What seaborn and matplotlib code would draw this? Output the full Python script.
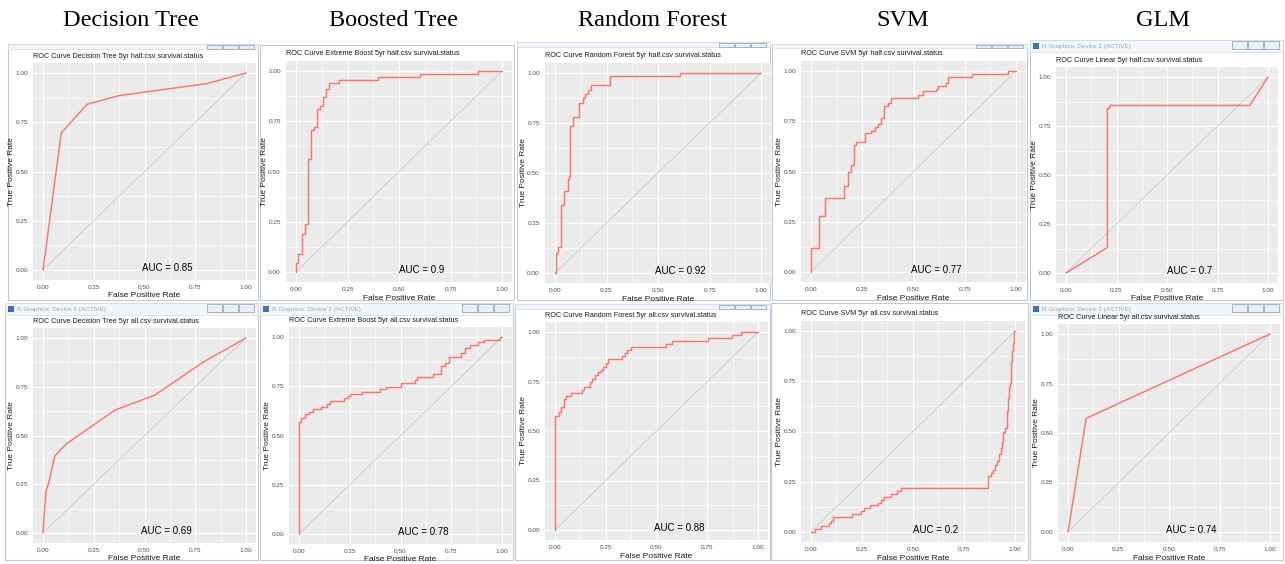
import matplotlib
matplotlib.use("Agg")
import matplotlib.pyplot as plt
from matplotlib.patches import Rectangle
import seaborn as sns

# ---------------------------------------------------------------- data ----
MODELS = ["Decision Tree", "Boosted Tree", "Random Forest", "SVM", "GLM"]

PLOT_TITLES = [
    "ROC Curve Decision Tree 5yr half.csv survival.status",
    "ROC Curve Extreme Boost 5yr half.csv survival.status",
    "ROC Curve Random Forest 5yr half.csv survival.status",
    "ROC Curve SVM 5yr half.csv survival.status",
    "ROC Curve Linear 5yr half.csv survival.status",
    "ROC Curve Decision Tree 5yr all.csv survival.status",
    "ROC Curve Extreme Boost 5yr all.csv survival.status",
    "ROC Curve Random Forest 5yr all.csv survival.status",
    "ROC Curve SVM 5yr all.csv survival.status",
    "ROC Curve Linear 5yr all.csv survival.status",
]

AUC_VALUES = [0.85, 0.9, 0.92, 0.77, 0.7, 0.69, 0.78, 0.88, 0.2, 0.74]

TICKS = [0.0, 0.25, 0.5, 0.75, 1.0]
TICK_LABELS = ["0.00", "0.25", "0.50", "0.75", "1.00"]
MINOR_TICKS = [0.125, 0.375, 0.625, 0.875]
CHANCE = [0.0, 1.0]

# half.csv curves
dt_half_fpr = [0.0, 0.09, 0.217, 0.373, 0.806, 1.0]
dt_half_tpr = [0.0, 0.696, 0.841, 0.885, 0.946, 1.0]

xgb_half_fpr = [0.0, 0.0, 0.01, 0.03, 0.045, 0.057, 0.073, 0.089, 0.10, 0.118,
                0.131, 0.146, 0.162, 0.207, 0.397, 0.603, 0.883, 1.0]
xgb_half_tpr = [0.0, 0.045, 0.09, 0.19, 0.24, 0.56, 0.705, 0.72, 0.81, 0.825,
                0.87, 0.91, 0.94, 0.955, 0.97, 0.987, 1.0, 1.0]

rf_half_fpr = [0.0, 0.003, 0.016, 0.03, 0.045, 0.062, 0.068, 0.073, 0.089, 0.118,
               0.135, 0.146, 0.162, 0.175, 0.267, 0.605, 1.0]
rf_half_tpr = [0.0, 0.10, 0.13, 0.34, 0.41, 0.47, 0.485, 0.735, 0.78, 0.85,
               0.875, 0.895, 0.915, 0.94, 0.985, 1.0, 1.0]

svm_half_fpr = [0.0, 0.0, 0.04, 0.07, 0.16, 0.18, 0.195, 0.21, 0.22, 0.265,
                0.295, 0.31, 0.325, 0.34, 0.355, 0.375, 0.39, 0.52, 0.545, 0.61,
                0.62, 0.66, 0.67, 0.785, 0.96, 1.0]
svm_half_tpr = [0.0, 0.12, 0.28, 0.37, 0.43, 0.50, 0.53, 0.63, 0.645, 0.69,
                0.70, 0.72, 0.735, 0.765, 0.825, 0.84, 0.865, 0.88, 0.90, 0.91,
                0.925, 0.94, 0.97, 0.985, 1.0, 1.0]

glm_half_fpr = [0.0, 0.205, 0.205, 0.215, 0.22, 0.91, 1.0]
glm_half_tpr = [0.0, 0.13, 0.84, 0.84, 0.855, 0.855, 1.0]

# all.csv curves
dt_all_fpr = [0.0, 0.008, 0.016, 0.03, 0.058, 0.115, 0.354, 0.551, 0.79, 1.0]
dt_all_tpr = [0.0, 0.128, 0.22, 0.264, 0.395, 0.457, 0.63, 0.707, 0.877, 1.0]

xgb_all_fpr = [0.0, 0.0, 0.01, 0.03, 0.05, 0.07, 0.11, 0.14, 0.155, 0.22,
               0.24, 0.25, 0.31, 0.40, 0.43, 0.50, 0.57, 0.58, 0.66, 0.698,
               0.718, 0.737, 0.80, 0.82, 0.84, 0.88, 0.91, 0.99, 1.0]
xgb_all_tpr = [0.0, 0.57, 0.59, 0.61, 0.62, 0.635, 0.645, 0.66, 0.675, 0.69,
               0.70, 0.71, 0.72, 0.735, 0.745, 0.765, 0.78, 0.795, 0.81, 0.853,
               0.87, 0.90, 0.917, 0.944, 0.958, 0.973, 0.987, 1.0, 1.0]

rf_all_fpr = [0.0, 0.0, 0.02, 0.03, 0.045, 0.055, 0.08, 0.135, 0.145, 0.17,
              0.18, 0.195, 0.21, 0.225, 0.235, 0.25, 0.26, 0.33, 0.345, 0.355,
              0.375, 0.545, 0.575, 0.755, 0.87, 0.915, 1.0]
rf_all_tpr = [0.0, 0.575, 0.595, 0.62, 0.66, 0.675, 0.69, 0.705, 0.72, 0.745,
              0.765, 0.785, 0.80, 0.81, 0.825, 0.845, 0.865, 0.88, 0.895, 0.91,
              0.925, 0.94, 0.955, 0.97, 0.985, 1.0, 1.0]

svm_all_fpr = [0.0, 0.02, 0.05, 0.09, 0.10, 0.11, 0.20, 0.245, 0.26, 0.29,
               0.33, 0.345, 0.36, 0.39, 0.42, 0.44, 0.87, 0.88, 0.89, 0.90,
               0.91, 0.92, 0.93, 0.935, 0.94, 0.95, 0.96, 0.965, 0.97, 0.975,
               0.98, 0.985, 0.99, 0.995, 1.0]
svm_all_tpr = [0.0, 0.015, 0.03, 0.045, 0.055, 0.075, 0.09, 0.105, 0.12, 0.135,
               0.145, 0.16, 0.175, 0.19, 0.205, 0.22, 0.28, 0.295, 0.31, 0.335,
               0.355, 0.39, 0.42, 0.45, 0.50, 0.515, 0.60, 0.665, 0.72, 0.74,
               0.85, 0.90, 0.94, 1.0, 1.0]

glm_all_fpr = [0.0, 0.09, 1.0]
glm_all_tpr = [0.0, 0.574, 1.0]

CURVES = [
    (dt_half_fpr, dt_half_tpr, "default"),
    (xgb_half_fpr, xgb_half_tpr, "steps-post"),
    (rf_half_fpr, rf_half_tpr, "steps-post"),
    (svm_half_fpr, svm_half_tpr, "steps-post"),
    (glm_half_fpr, glm_half_tpr, "default"),
    (dt_all_fpr, dt_all_tpr, "default"),
    (xgb_all_fpr, xgb_all_tpr, "steps-post"),
    (rf_all_fpr, rf_all_tpr, "steps-post"),
    (svm_all_fpr, svm_all_tpr, "steps-post"),
    (glm_all_fpr, glm_all_tpr, "default"),
]

# -------------------------------------------------------------- layout ----
W, H = 1285, 564

# pixel positions (top-left origin) of data 0 and 1 on each panel: x0, x1, y0, y1
PANEL_PX = [
    (43, 246, 270, 73), (296, 502, 272, 71), (555, 761, 273, 73),
    (811, 1016, 272, 71), (1066, 1268, 273, 77),
    (43, 246, 533, 338), (299, 502, 534, 337), (555, 758, 530, 332),
    (811, 1015, 532, 331), (1068, 1270, 532, 334),
]

# window frames: x0, y0, x1, y1, title-bar height, caption shown, buttons shown
WINDOWS = [
    (8, 44, 258, 300, 5, False, True),
    (260, 45, 514, 300, 0, False, False),
    (517, 42, 770, 300, 5, False, True),
    (772, 44, 1027, 300, 4, False, True),
    (1030, 40, 1283, 300, 12, True, True),
    (5, 303, 258, 560, 12, True, True),
    (260, 303, 513, 560, 12, True, True),
    (515, 304, 770, 560, 5, False, True),
    (771, 303, 1028, 560, 0, False, False),
    (1030, 303, 1283, 560, 12, True, True),
]

HEADER_X = [131, 393, 652, 903, 1163]

RED = "#F8766D"
PANEL_BG = "#EBEBEB"

sns.set_style("white")
plt.rcParams["font.family"] = ["Liberation Sans", "DejaVu Sans"]

fig = plt.figure(figsize=(W / 100, H / 100), dpi=100)
fig.patch.set_facecolor("white")


def fig_rect(x0, y0, x1, y1, **kw):
    r = Rectangle((x0 / W, 1 - y1 / H), (x1 - x0) / W, (y1 - y0) / H,
                  transform=fig.transFigure, **kw)
    fig.add_artist(r)
    return r


# window chrome (kept beneath the plot axes)
for (x0, y0, x1, y1, bar, caption, buttons) in WINDOWS:
    fig_rect(x0, y0, x1, y1, facecolor="white", edgecolor="#BFCAD6",
             linewidth=0.8, zorder=-3)
    if bar:
        fig_rect(x0, y0, x1, y0 + bar, facecolor="#F2F5F9", edgecolor="#D3DCE6",
                 linewidth=0.5, zorder=-2.5)
    if caption:
        fig_rect(x0 + 3, y0 + 3, x0 + 9, y0 + 9, facecolor="#3F73AE",
                 edgecolor="none", zorder=-2)
        t = fig.text((x0 + 12) / W, 1 - (y0 + 6.5) / H,
                     "R Graphics: Device 2 (ACTIVE)",
                     fontsize=4.6, color="#9AA9BA", va="center", ha="left")
        t.set_zorder(-2)
    if buttons:
        bh = min(bar, 9) if bar else 0
        for k in range(3):
            bx1 = x1 - 4 - k * 16
            fig_rect(bx1 - 15, y0 + 1, bx1, y0 + bh, facecolor="#E9EEF4",
                     edgecolor="#8C9BAC", linewidth=0.5, zorder=-2)

# column headers
for name, cx in zip(MODELS, HEADER_X):
    fig.text(cx / W, 1 - 20 / H, name, fontsize=17.5, ha="center", va="center",
             family=["Liberation Serif", "DejaVu Serif"], color="black")

# ROC panels
for i, ((x0, x1, y0, y1), (fpr, tpr, ds)) in enumerate(zip(PANEL_PX, CURVES)):
    dx = x1 - x0
    dy = y0 - y1
    left = x0 - 0.05 * dx
    bottom = y0 + 0.05 * dy
    ax = fig.add_axes([left / W, 1 - bottom / H, 1.1 * dx / W, 1.1 * dy / H])
    ax.set_facecolor(PANEL_BG)
    for s in ax.spines.values():
        s.set_visible(False)

    sns.lineplot(x=CHANCE, y=CHANCE, ax=ax, color="#C4C4C4", linewidth=0.5,
                 sort=False, estimator=None)
    sns.lineplot(x=fpr, y=tpr, ax=ax, color=RED, linewidth=1.05,
                 sort=False, estimator=None, drawstyle=ds)

    ax.set_xlim(-0.05, 1.05)
    ax.set_ylim(-0.05, 1.05)
    ax.set_xticks(TICKS)
    ax.set_xticklabels(TICK_LABELS)
    ax.set_yticks(TICKS)
    ax.set_yticklabels(TICK_LABELS)
    ax.set_xticks(MINOR_TICKS, minor=True)
    ax.set_yticks(MINOR_TICKS, minor=True)
    ax.grid(True, which="major", color="white", linewidth=0.9)
    ax.grid(True, which="minor", color="white", linewidth=0.45)
    ax.set_axisbelow(True)
    ax.tick_params(which="major", length=2, width=0.5, color="#333333",
                   labelsize=4.6, labelcolor="#4D4D4D", pad=1.5)
    ax.tick_params(which="minor", length=0)

    ax.set_xlabel("False Positive Rate", fontsize=6, color="#1A1A1A", labelpad=2)
    ax.set_ylabel("True Positive Rate", fontsize=6, color="#1A1A1A", labelpad=0.5)
    ax.set_title(PLOT_TITLES[i], loc="left", fontsize=5.2, color="#1A1A1A", pad=4)

    ax.text(0.61, 0.01, f"AUC = {AUC_VALUES[i]:g}", ha="center", va="center",
            fontsize=7, color="black")

fig.savefig("out.png", dpi=100, facecolor="white")
